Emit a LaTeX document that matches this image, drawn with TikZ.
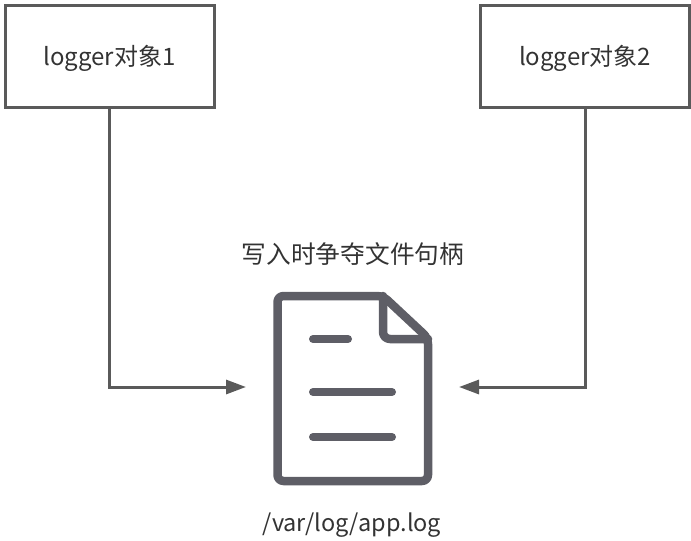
\documentclass[tikz,border=0pt]{standalone}
\usepackage{fontspec}
\setmainfont{Noto Sans CJK SC}
\usetikzlibrary{arrows.meta}
\definecolor{boxgray}{HTML}{5A5A5A}
\definecolor{icongray}{HTML}{5E5E66}
\definecolor{textgray}{HTML}{333333}
\tikzset{
  loggerbox/.style={draw=boxgray, line width=3pt, minimum width=209pt, minimum height=102pt, inner sep=0pt, text=textgray, text height=23pt, text depth=5pt, font=\fontsize{24}{28}\selectfont},
  label/.style={text=textgray, font=\fontsize{24}{28}\selectfont, inner sep=0pt},
  link/.style={draw=boxgray, line width=3pt, -{Triangle[length=20pt,width=14pt]}},
  icon/.style={draw=icongray, line width=8.5pt, line join=round, line cap=round}
}

\begin{document}
\begin{tikzpicture}[x=1pt,y=-1pt]
\useasboundingbox (0,0) rectangle (691,541);
\node[loggerbox] (logger1) at (109.5,56) {logger对象1};
\node[loggerbox] (logger2) at (585,56) {logger对象2};
\node[label, font=\fontsize{24.7}{28}\selectfont] (contend) at (353,254) {写入时争夺文件句柄};
\node[label, font=\fontsize{23.5}{28}\selectfont] (path) at (352,525) {/var/log/app.log};
\coordinate (fileleft) at (246,387);
\coordinate (fileright) at (459,387);
\draw[link] (logger1.south) |- (fileleft);
\draw[link] (logger2.south) |- (fileright);
% file icon
\draw[icon, rounded corners=6pt] (383,296) -- (277.5,296) -- (277.5,481) -- (428,481) -- (428,338) -- cycle;
\draw[icon, rounded corners=7pt] (383,296) -- (383,339) -- (428,339);
\draw[icon, line width=8pt] (313,339) -- (348,339);
\draw[icon, line width=8pt] (313,392) -- (392,392);
\draw[icon, line width=8pt] (313,437) -- (392,437);
\end{tikzpicture}
\end{document}
